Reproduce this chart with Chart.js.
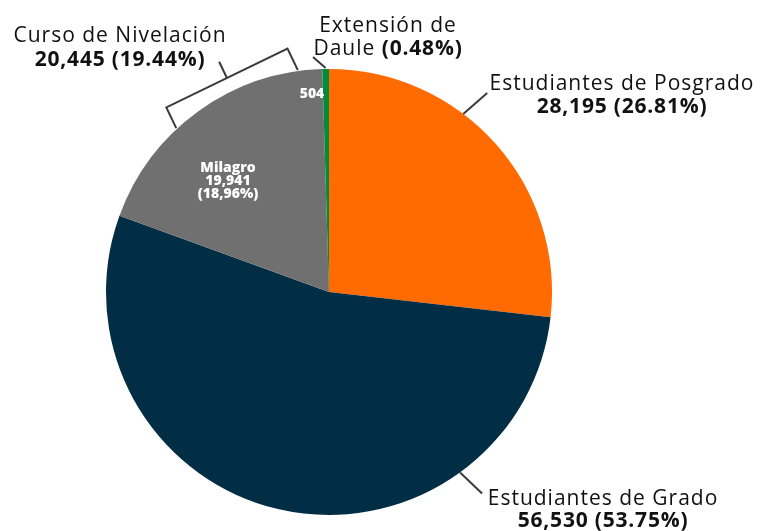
<!DOCTYPE html>
<html>
<head>
<meta charset="utf-8">
<script src="https://cdn.jsdelivr.net/npm/chart.js@4"></script>
<style>
  html, body { margin: 0; padding: 0; background: #ffffff; }
  #wrap { width: 763px; height: 531px; position: relative; }
</style>
</head>
<body>
<div id="wrap"><canvas id="c" width="763" height="531"></canvas></div>
<script>
// ---- Data ----
const categories = ['Estudiantes de Posgrado', 'Estudiantes de Grado', 'Milagro', 'Extensión de Daule'];
const students = [28195, 56530, 19941, 504];
const percentLabels = ['26.81%', '53.75%', '18,96%', '0.48%'];
const nivelacionLabel = 'Curso de Nivelación';
const nivelacionTotal = 20445;
const nivelacionPercent = '19.44%';
const sliceColors = ['#FF6B00', '#012D45', '#707070', '#008C3A'];

const FONT = '"Open Sans", "DejaVu Sans", sans-serif';
const fmt = v => v.toLocaleString('en-US');

function drawLine(ctx, segs, cx, y) {
  let total = 0;
  segs.forEach(s => {
    ctx.font = s.font; ctx.letterSpacing = s.ls || '0px';
    s.w = ctx.measureText(s.t).width; total += s.w;
  });
  let x = cx - total / 2;
  segs.forEach(s => {
    ctx.font = s.font; ctx.letterSpacing = s.ls || '0px';
    ctx.fillText(s.t, x, y); x += s.w;
  });
  ctx.letterSpacing = '0px';
}

const annotPlugin = {
  id: 'annot',
  afterDatasetsDraw(chart) {
    const ctx = chart.ctx;
    const meta = chart.getDatasetMeta(0);
    const a0 = meta.data[0];
    const cx = a0.x, cy = a0.y, R = a0.outerRadius;
    const pt = (deg, r) => {
      const a = (deg - 90) * Math.PI / 180;
      return [cx + r * Math.cos(a), cy + r * Math.sin(a)];
    };
    const midAngleDeg = el => (((el.startAngle + el.endAngle) / 2) * 180 / Math.PI) + 90;

    ctx.save();
    ctx.strokeStyle = '#3a3a3a';
    ctx.lineWidth = 2;
    ctx.lineCap = 'butt';

    // leader: Posgrado
    let s = pt(37, R);
    ctx.beginPath(); ctx.moveTo(s[0], s[1]); ctx.lineTo(s[0] + 24, s[1] - 21); ctx.stroke();
    // leader: Grado
    s = pt(144, R);
    ctx.beginPath(); ctx.moveTo(s[0], s[1]); ctx.lineTo(s[0] + 22, s[1] + 21); ctx.stroke();
    // leader: Daule (points at the green slice)
    s = pt(midAngleDeg(meta.data[3]), R + 1);
    ctx.beginPath(); ctx.moveTo(s[0], s[1]); ctx.lineTo(313, 57); ctx.stroke();

    // bracket for Curso de Nivelación (Milagro + Daule)
    const p1 = pt(317, R + 1), p2 = pt(352, R + 1);
    let dx = p2[0] - p1[0], dy = p2[1] - p1[1];
    const L = Math.hypot(dx, dy); dx /= L; dy /= L;
    const n = [dy, -dx];
    const q1 = [p1[0] + n[0] * 23, p1[1] + n[1] * 23];
    const q2 = [p2[0] + n[0] * 24, p2[1] + n[1] * 24];
    ctx.beginPath();
    ctx.moveTo(p1[0], p1[1]); ctx.lineTo(q1[0], q1[1]); ctx.lineTo(q2[0], q2[1]); ctx.lineTo(p2[0], p2[1]);
    ctx.stroke();
    const m = [(q1[0] + q2[0]) / 2, (q1[1] + q2[1]) / 2];
    ctx.beginPath(); ctx.moveTo(m[0], m[1]); ctx.lineTo(m[0] + n[0] * 18, m[1] + n[1] * 18); ctx.stroke();

    // outside labels
    ctx.fillStyle = '#111111';
    ctx.textBaseline = 'alphabetic';
    ctx.textAlign = 'left';
    const reg = '400 21px ' + FONT, bold = '700 21px ' + FONT;
    const LS = '1px', BLS = '0.8px';

    drawLine(ctx, [{ t: nivelacionLabel, font: reg, ls: LS }], 120, 42);
    drawLine(ctx, [{ t: fmt(nivelacionTotal) + ' (' + nivelacionPercent + ')', font: bold, ls: BLS }], 120, 66);

    drawLine(ctx, [{ t: 'Extensión de', font: reg, ls: LS }], 388, 32);
    drawLine(ctx, [{ t: 'Daule ', font: reg, ls: LS }, { t: '(' + percentLabels[3] + ')', font: bold, ls: BLS }], 388, 55);

    drawLine(ctx, [{ t: categories[0], font: reg, ls: LS }], 622, 90);
    drawLine(ctx, [{ t: fmt(students[0]) + ' (' + percentLabels[0] + ')', font: bold, ls: BLS }], 622, 113);

    drawLine(ctx, [{ t: categories[1], font: reg, ls: LS }], 603, 505);
    drawLine(ctx, [{ t: fmt(students[1]) + ' (' + percentLabels[1] + ')', font: bold, ls: BLS }], 603, 527);

    // inside labels
    ctx.fillStyle = '#ffffff';
    const ib = '800 14px ' + FONT;
    drawLine(ctx, [{ t: categories[2], font: ib }], 228, 172);
    drawLine(ctx, [{ t: fmt(students[2]), font: ib }], 228, 185);
    drawLine(ctx, [{ t: '(' + percentLabels[2] + ')', font: ib }], 228, 198);
    drawLine(ctx, [{ t: String(students[3]), font: ib }], 312, 98);

    ctx.restore();
  }
};

new Chart(document.getElementById('c'), {
  type: 'pie',
  data: {
    labels: categories,
    datasets: [{
      data: students,
      backgroundColor: sliceColors,
      borderWidth: 0,
      hoverOffset: 0
    }]
  },
  options: {
    responsive: false,
    animation: false,
    layout: { padding: { left: 106, right: 211, top: 69, bottom: 16 } },
    plugins: {
      legend: { display: false },
      tooltip: { enabled: false },
      title: { display: false }
    }
  },
  plugins: [annotPlugin]
});
</script>
</body>
</html>
